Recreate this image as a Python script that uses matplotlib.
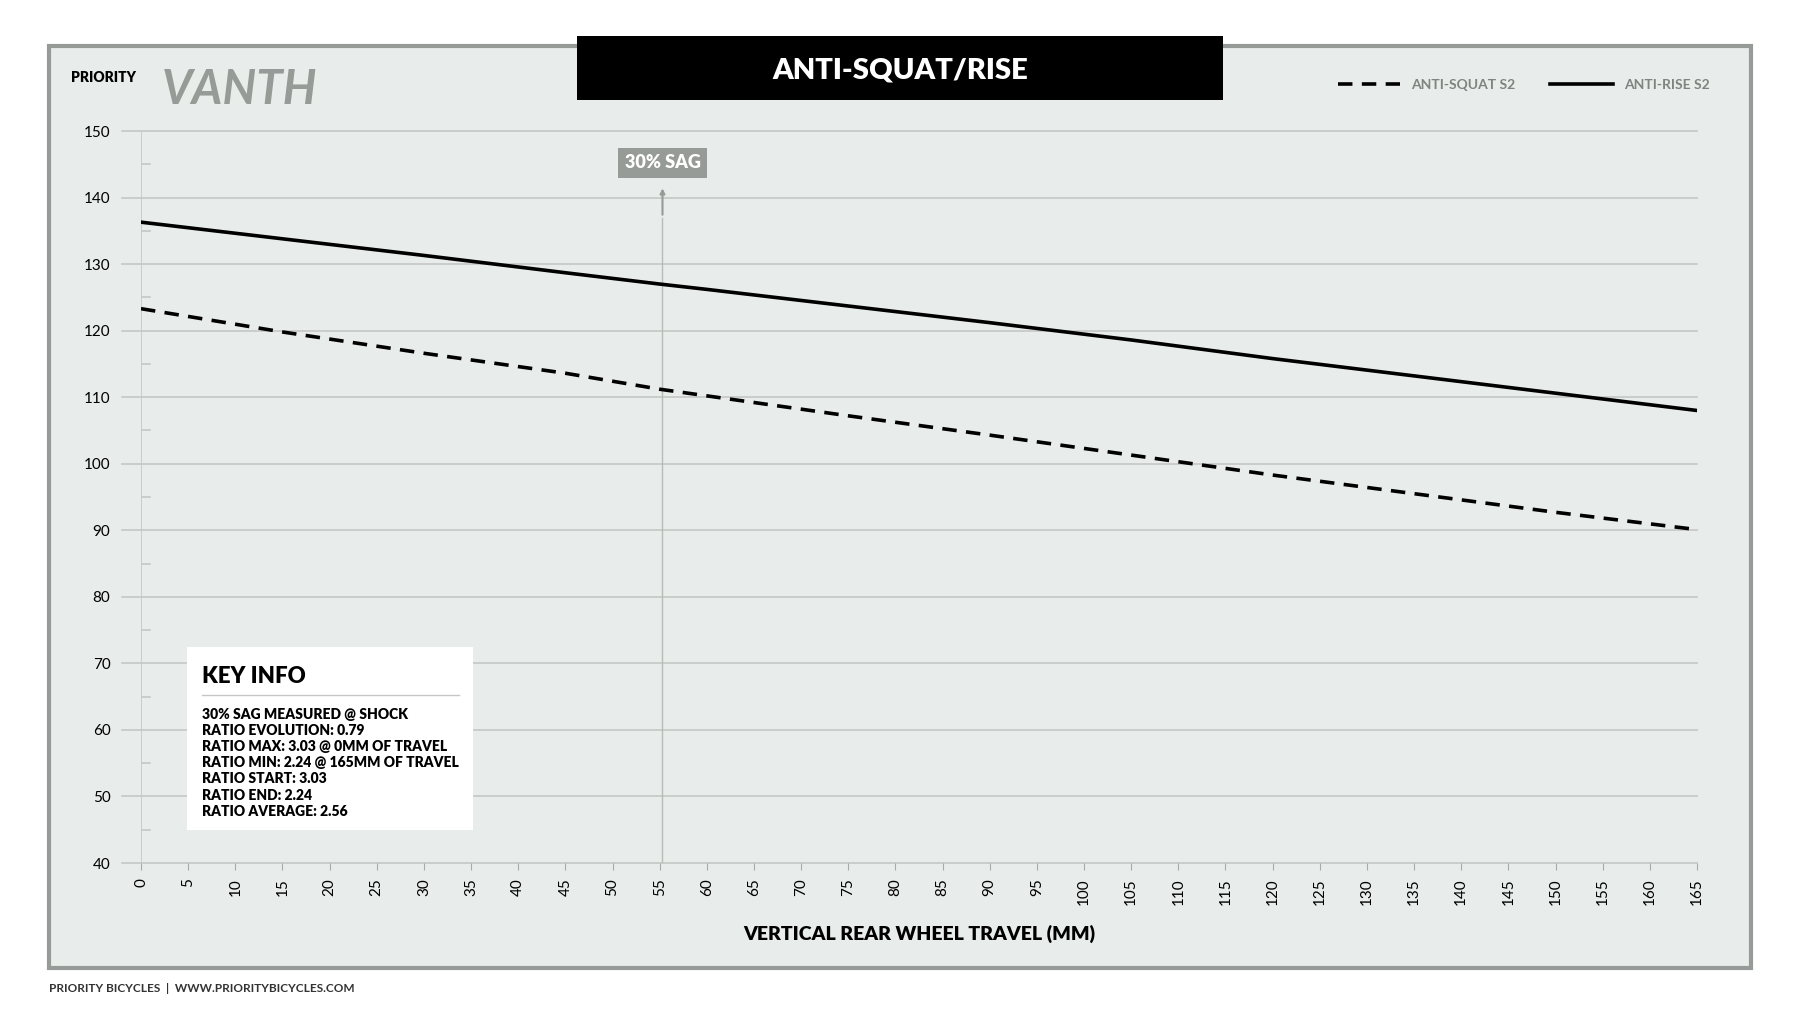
import matplotlib.pyplot as plt
from matplotlib.patches import Rectangle

plt.rcParams['font.family'] = ['Lato', 'DejaVu Sans']

travel = [0, 15, 30, 45, 55, 60, 75, 90, 105, 120, 135, 150, 165]
anti_squat = [123.3, 119.8, 116.6, 113.6, 111.2, 110.2, 107.2, 104.3, 101.3, 98.3, 95.5, 92.7, 90.1]
anti_rise = [136.3, 133.8, 131.3, 128.7, 127.0, 126.2, 123.7, 121.2, 118.6, 115.8, 113.2, 110.6, 108.0]
sag_x = 55.3
x_ticks = list(range(0, 170, 5))
y_ticks = list(range(40, 160, 10))
key_lines = [
    "30% SAG MEASURED @ SHOCK",
    "RATIO EVOLUTION: 0.79",
    "RATIO MAX: 3.03 @ 0MM OF TRAVEL",
    "RATIO MIN: 2.24 @ 165MM OF TRAVEL",
    "RATIO START: 3.03",
    "RATIO END: 2.24",
    "RATIO AVERAGE: 2.56",
]

W, H = 1800, 1013
fig = plt.figure(figsize=(18, 10.13), dpi=100)
fig.patch.set_facecolor("white")


def fx(px):
    return px / W


def fy(py):
    return 1 - py / H


# outer panel
fig.patches.append(Rectangle((fx(49), fy(968)), fx(1702), (968 - 46) / H, transform=fig.transFigure,
                             facecolor="#e8ecea", edgecolor="#979b97", linewidth=3, zorder=-1))
# title box
fig.patches.append(Rectangle((fx(577), fy(100)), fx(646), 64 / H, transform=fig.transFigure,
                             facecolor="black", edgecolor="none", zorder=2))
fig.text(fx(900), fy(70), "ANTI-SQUAT/RISE", color="white", fontsize=21, fontweight="heavy",
         ha="center", va="center", zorder=3)
fig.text(fx(71), fy(77), "PRIORITY", fontsize=10, fontweight="heavy", va="center")
fig.text(fx(162), fy(90), "VANTH", fontsize=34, fontweight="bold", fontstyle="italic",
         color="#979b97", va="center")
fig.text(fx(49), fy(988), "PRIORITY BICYCLES  |  WWW.PRIORITYBICYCLES.COM", fontsize=8.5,
         fontweight="bold", color="#333333", va="center")

ax = fig.add_axes([fx(141), fy(863), fx(1697 - 141), (863 - 131) / H])
ax.set_zorder(1)
ax.set_facecolor("none")
ax.set_xlim(0, 165)
ax.set_ylim(40, 150)
for s in ax.spines.values():
    s.set_visible(False)

for y in y_ticks:
    ax.plot([-2, 165], [y, y], color="#c4c7c4", lw=1.2, clip_on=False, zorder=1)
ax.axvline(0, color="#c4c7c4", lw=1.2, zorder=1)
for y in range(45, 150, 10):
    ax.plot([0, 1], [y, y], color="#c4c7c4", lw=1.2, zorder=1)

ax.set_yticks(y_ticks)
ax.set_xticks(x_ticks)
ax.tick_params(axis="y", length=0, pad=22, labelsize=11)
ax.tick_params(axis="x", length=5, color="#aaaaaa", rotation=90, labelsize=11, pad=6)
ax.set_xlabel("VERTICAL REAR WHEEL TRAVEL (MM)", fontsize=14, fontweight="heavy", labelpad=14)

ax.plot(travel, anti_squat, color="black", lw=2.6, ls=(0, (4, 2.6)), label="ANTI-SQUAT S2", zorder=3)
ax.plot(travel, anti_rise, color="black", lw=2.6, label="ANTI-RISE S2", zorder=3)

# sag marker
ax.plot([sag_x, sag_x], [40, 137], color="#b8bbb8", lw=1, zorder=2)
ax.annotate("", xy=(sag_x, 141.8), xytext=(sag_x, 137),
            arrowprops=dict(arrowstyle="-|>", color="#979b97", lw=1.5, mutation_scale=7))
ax.text(sag_x, 145.2, "30% SAG", ha="center", va="center", fontsize=13, fontweight="heavy",
        color="white", bbox=dict(boxstyle="square,pad=0.35", facecolor="#979b97", edgecolor="none"))

leg = fig.legend(loc="center right", bbox_to_anchor=(fx(1722), fy(85)), ncol=2, frameon=False,
                 fontsize=10, handlelength=4.5, columnspacing=2.5)
for t in leg.get_texts():
    t.set_color("#808480")
    t.set_fontweight("bold")

# key info box
fig.patches.append(Rectangle((fx(187), fy(830)), fx(286), (830 - 647) / H, transform=fig.transFigure,
                             facecolor="white", edgecolor="none", zorder=2))
fig.text(fx(202), fy(676), "KEY INFO", fontsize=16, fontweight="heavy", va="center", zorder=3)
fig.add_artist(plt.Line2D([fx(202), fx(459)], [fy(695), fy(695)], color="#c4c7c4", lw=1, zorder=3))
for i, line in enumerate(key_lines):
    fig.text(fx(202), fy(714 + i * 16.2), line, fontsize=10, fontweight="heavy", va="center", zorder=3)

fig.savefig("out.png", dpi=100)
